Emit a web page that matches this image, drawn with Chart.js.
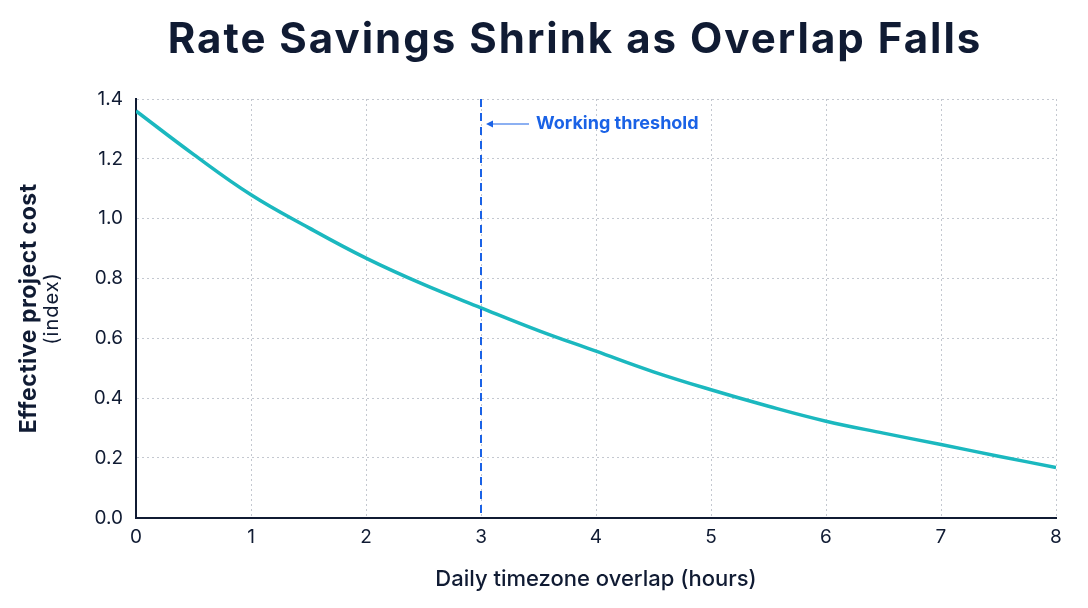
<!DOCTYPE html>
<html>
<head>
<meta charset="utf-8">
<script src="https://cdn.jsdelivr.net/npm/chart.js@4.4.0/dist/chart.umd.min.js"></script>
<style>
  html, body { margin: 0; padding: 0; background: #ffffff; }
  #wrap { width: 1088px; height: 608px; }
</style>
</head>
<body>
<div id="wrap"><canvas id="costChart" width="1088" height="608"></canvas></div>
<script>
// Data
const overlapHours = [0, 0.5, 1, 1.5, 2, 2.5, 3, 3.5, 4, 4.5, 5, 5.5, 6, 6.5, 7, 7.5, 8];
const costIndex = [1.36, 1.215, 1.08, 0.97, 0.868, 0.78, 0.702, 0.626, 0.557, 0.488, 0.428, 0.373, 0.323, 0.283, 0.245, 0.206, 0.168];
const thresholdHour = 3;
const thresholdLabel = "Working threshold";
const chartTitle = "Rate Savings Shrink as Overlap Falls";

const INK = '#101b33';
const TEAL = '#1bb8bf';
const BLUE = '#1a62e6';

// title, y axis title (bold line + normal line) and threshold annotation
const extras = {
    id: 'extras',
    afterDatasetsDraw(chart) {
        const { ctx, chartArea, scales } = chart;
        const x = scales.x.getPixelForValue(thresholdHour);
        ctx.save();
        // dashed threshold line
        ctx.strokeStyle = BLUE;
        ctx.lineWidth = 2;
        ctx.setLineDash([8, 6]);
        ctx.beginPath();
        ctx.moveTo(x, chartArea.top);
        ctx.lineTo(x, chartArea.bottom);
        ctx.stroke();
        ctx.setLineDash([]);
        // arrow + label
        const ay = chartArea.top + 25;
        ctx.lineWidth = 1.2;
        ctx.beginPath();
        ctx.moveTo(x + 48, ay);
        ctx.lineTo(x + 8, ay);
        ctx.stroke();
        ctx.fillStyle = BLUE;
        ctx.beginPath();
        ctx.moveTo(x + 5, ay);
        ctx.lineTo(x + 12, ay - 3.5);
        ctx.lineTo(x + 12, ay + 3.5);
        ctx.closePath();
        ctx.fill();
        ctx.font = 'bold 18px Inter';
        ctx.textBaseline = 'middle';
        ctx.textAlign = 'left';
        ctx.fillText(thresholdLabel, x + 55, ay);
        // chart title
        ctx.fillStyle = INK;
        ctx.font = 'bold 42px Inter';
        ctx.letterSpacing = '2px';
        ctx.textAlign = 'center';
        ctx.textBaseline = 'alphabetic';
        ctx.fillText(chartTitle, 575, 53);
        ctx.letterSpacing = '0px';
        // y axis title
        const cy = (chartArea.top + chartArea.bottom) / 2;
        ctx.translate(29, cy);
        ctx.rotate(-Math.PI / 2);
        ctx.textBaseline = 'middle';
        ctx.font = 'bold 23px Inter';
        ctx.letterSpacing = '0.5px';
        ctx.fillText('Effective project cost', 0, 0);
        ctx.font = '20px Inter';
        ctx.letterSpacing = '1px';
        ctx.fillText('(index)', 0, 23);
        ctx.restore();
    }
};

const chart = new Chart(document.getElementById('costChart'), {
    type: 'line',
    data: {
        datasets: [{
            data: overlapHours.map((h, i) => ({ x: h, y: costIndex[i] })),
            borderColor: TEAL,
            borderWidth: 3.5,
            pointRadius: 0,
            tension: 0.4,
            fill: false
        }]
    },
    options: {
        responsive: false,
        animation: false,
        layout: { padding: { left: 0, right: 32, top: 99, bottom: 11 } },
        plugins: {
            legend: { display: false },
            tooltip: { enabled: false },
            title: { display: false }
        },
        scales: {
            x: {
                type: 'linear',
                min: 0,
                max: 8,
                ticks: { stepSize: 1, color: INK, font: { family: 'Inter', size: 19 }, padding: 8 },
                grid: { color: '#c4c8d0', lineWidth: 1, drawTicks: false },
                border: { display: true, color: INK, width: 2, dash: [2, 3] },
                title: {
                    display: true,
                    text: 'Daily timezone overlap (hours)',
                    color: INK,
                    font: { family: 'Inter', size: 22, weight: '500' },
                    padding: { top: 10, bottom: 4 }
                }
            },
            y: {
                min: 0,
                max: 1.4,
                ticks: {
                    stepSize: 0.2,
                    color: INK,
                    font: { family: 'Inter', size: 19 },
                    padding: 13,
                    callback: v => v.toFixed(1)
                },
                grid: { color: '#c4c8d0', lineWidth: 1, drawTicks: false },
                border: { display: true, color: INK, width: 2, dash: [2, 3] },
                afterFit(scale) { scale.width = 136; }
            }
        }
    },
    plugins: [extras]
});
</script>
</body>
</html>
